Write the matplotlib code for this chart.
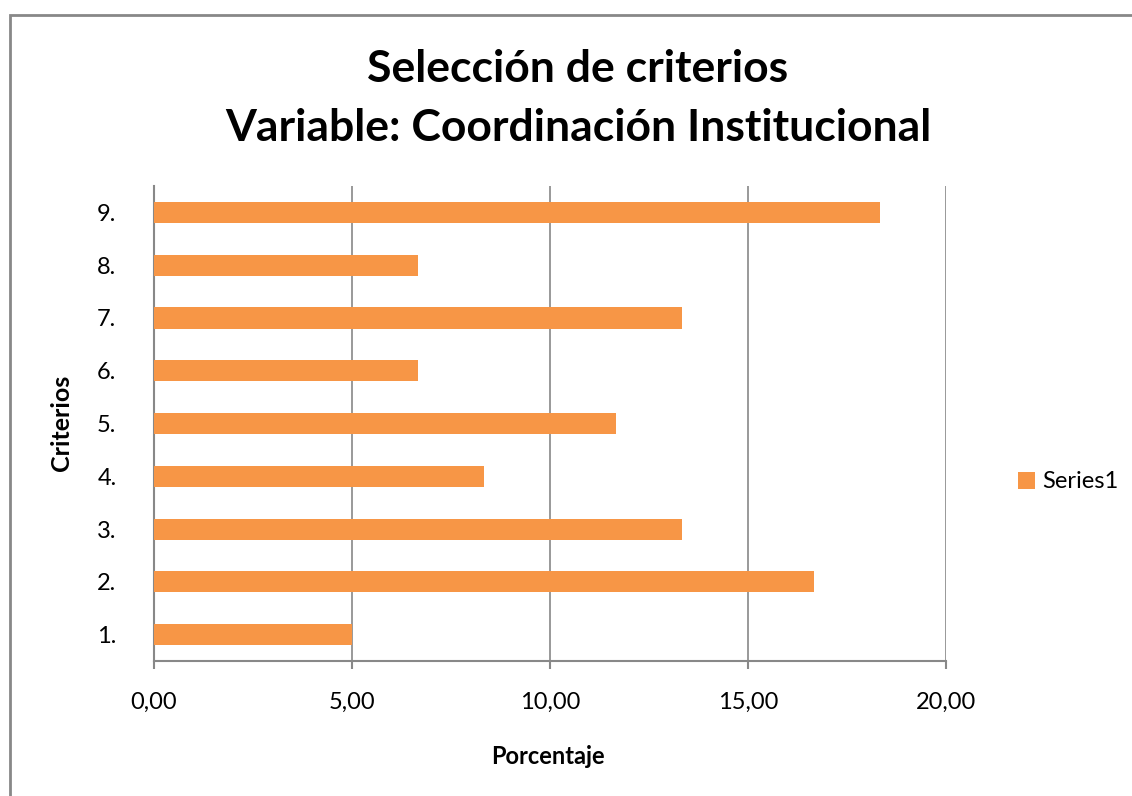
import matplotlib
matplotlib.use("Agg")
import matplotlib.pyplot as plt
from matplotlib.patches import Rectangle

plt.rcParams['font.family'] = ['Lato', 'DejaVu Sans']

criterios = ["1.", "2.", "3.", "4.", "5.", "6.", "7.", "8.", "9."]
porcentaje = [5.00, 16.67, 13.33, 8.33, 11.67, 6.67, 13.33, 6.67, 18.33]
xticks = [0, 5, 10, 15, 20]
xtick_labels = ["0,00", "5,00", "10,00", "15,00", "20,00"]

orange = "#F79646"
gray = "#888888"

fig = plt.figure(figsize=(11.32, 7.96), dpi=100)

# chart frame (cut off at right and bottom like the reference)
fig.patches.append(Rectangle((10 / 1132, -0.1), 1.2, 1 - 15 / 796 + 0.1,
                             transform=fig.transFigure, fill=False,
                             edgecolor=gray, linewidth=2))

ax = fig.add_axes([154 / 1132, 1 - 661 / 796, (946 - 154) / 1132, (661 - 186) / 796])
ax.barh(range(len(criterios)), porcentaje, height=0.4, color=orange, label="Series1", zorder=3)

ax.set_xlim(0, 20)
ax.set_ylim(-0.5, len(criterios) - 0.5)
ax.set_xticks(xticks)
ax.set_xticklabels(xtick_labels, fontsize=17)
ax.set_yticks(range(len(criterios)))
ax.set_yticklabels(criterios, fontsize=17)
ax.tick_params(axis='x', length=6, width=1.5, color=gray, pad=16)
ax.tick_params(axis='y', length=0, pad=27)

ax.grid(axis='x', color=gray, linewidth=1.2, zorder=0)
for s in ['top', 'right']:
    ax.spines[s].set_visible(False)
for s in ['left', 'bottom']:
    ax.spines[s].set_color(gray)
    ax.spines[s].set_linewidth(1.5)

fig.text(548 / 1132, 1 - 757 / 796, "Porcentaje", ha='center', va='center',
         fontsize=17, fontweight='bold')
fig.text(62 / 1132, 1 - 423 / 796, "Criterios", ha='center', va='center', rotation=90,
         fontsize=18, fontweight='bold')

fig.text(578 / 1132, 1 - 69 / 796, "Selección de criterios", ha='center', va='center',
         fontsize=32, fontweight='bold')
fig.text(578 / 1132, 1 - 128 / 796, "Variable: Coordinación Institucional", ha='center',
         va='center', fontsize=32, fontweight='bold')

fig.legend(loc='center left', bbox_to_anchor=(997 / 1132, 1 - 482 / 796), frameon=False,
           fontsize=17, handlelength=0.7, handleheight=0.7, handletextpad=0.3)

fig.savefig("out.png", dpi=100)
